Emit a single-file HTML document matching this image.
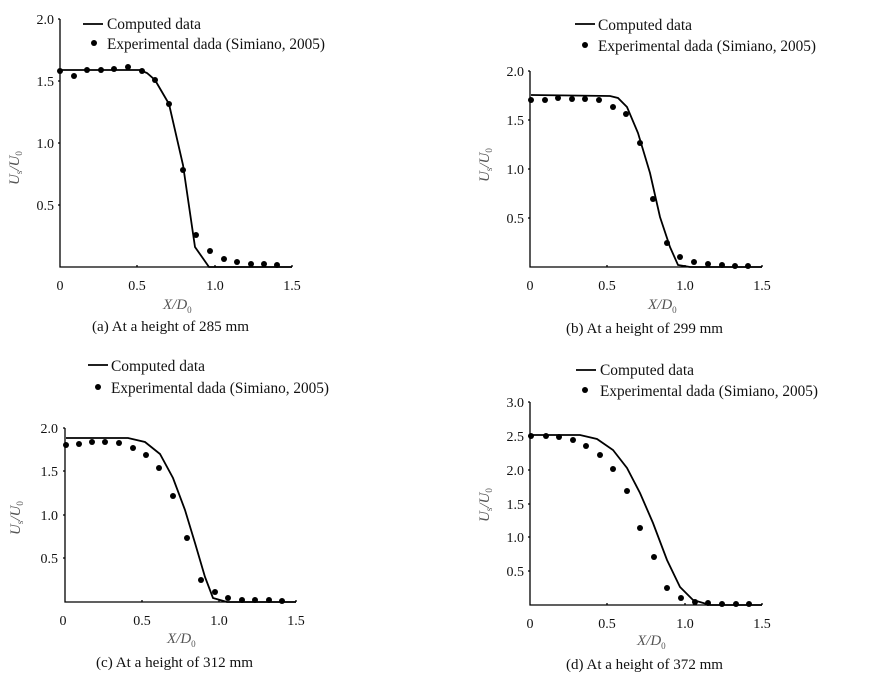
<!DOCTYPE html>
<html><head><meta charset="utf-8"><style>
html,body{margin:0;padding:0;background:#fff;}
svg{display:block;font-family:"Liberation Serif",serif;}
text{fill:#111;font-size:14px;}
.l{font-size:15.5px;}
.c{font-size:15px;}
.g{fill:#555;}
</style></head><body>
<svg width="871" height="673" viewBox="0 0 871 673" xmlns="http://www.w3.org/2000/svg">
<g stroke="#000" stroke-width="1.3" fill="none">
<polyline points="60,19 60,267 292,267"/>
<path d="M58,19h2M58,81h2M58,143h2M58,205h2M137,267v-2M215,267v-2M292,267v-2"/>
<polyline points="530,71 530,267 762,267"/>
<path d="M528,71h2M528,120h2M528,169h2M528,218h2M607,267v-2M685,267v-2M762,267v-2"/>
<polyline points="65,428 65,602 296,602"/>
<path d="M63,428h2M63,471h2M63,515h2M63,558h2M142,602v-2M219,602v-2M296,602v-2"/>
<polyline points="530,402 530,605 762,605"/>
<path d="M528,402h2M528,436h2M528,470h2M528,504h2M528,537h2M528,571h2M607,605v-2M685,605v-2M762,605v-2"/>
</g>
<g stroke="#000" stroke-width="1.8" fill="none">
<polyline points="60,70 140,70 147,73 155,80 169,104 183,165 195,247 209,267 292,267"/>
<polyline points="531,95 610,96 618,98 627,107 638,133 650,173 660,217 670,247 678,265 690,267 762,267"/>
<polyline points="66,438 128,438 145,442 160,454 173,478 185,510 195,543 205,577 213,598 227,602 296,602"/>
<polyline points="531,435 580,435 597,439 613,450 627,468 640,493 653,523 667,560 680,587 693,600 710,605 762,605"/>
<path d="M83,24h20M575,24h20M88,365h20M576,370h20"/>
</g>
<g fill="#000">
<circle cx="94" cy="43" r="3"/><circle cx="585" cy="45" r="3"/><circle cx="98" cy="387" r="3"/><circle cx="585" cy="390" r="3"/>
<circle cx="60" cy="71" r="3"/><circle cx="74" cy="76" r="3"/><circle cx="87" cy="70" r="3"/><circle cx="101" cy="70" r="3"/><circle cx="114" cy="69" r="3"/><circle cx="128" cy="67" r="3"/><circle cx="142" cy="71" r="3"/><circle cx="155" cy="80" r="3"/><circle cx="169" cy="104" r="3"/><circle cx="183" cy="170" r="3"/><circle cx="196" cy="235" r="3"/><circle cx="210" cy="251" r="3"/><circle cx="224" cy="259" r="3"/><circle cx="237" cy="262" r="3"/><circle cx="251" cy="264" r="3"/><circle cx="264" cy="264" r="3"/><circle cx="277" cy="265" r="3"/>
<circle cx="531" cy="100" r="3"/><circle cx="545" cy="100" r="3"/><circle cx="558" cy="98" r="3"/><circle cx="572" cy="99" r="3"/><circle cx="585" cy="99" r="3"/><circle cx="599" cy="100" r="3"/><circle cx="613" cy="107" r="3"/><circle cx="626" cy="114" r="3"/><circle cx="640" cy="143" r="3"/><circle cx="653" cy="199" r="3"/><circle cx="667" cy="243" r="3"/><circle cx="680" cy="257" r="3"/><circle cx="694" cy="262" r="3"/><circle cx="708" cy="264" r="3"/><circle cx="722" cy="265" r="3"/><circle cx="735" cy="266" r="3"/><circle cx="748" cy="266" r="3"/>
<circle cx="66" cy="445" r="3"/><circle cx="79" cy="444" r="3"/><circle cx="92" cy="442" r="3"/><circle cx="105" cy="442" r="3"/><circle cx="119" cy="443" r="3"/><circle cx="133" cy="448" r="3"/><circle cx="146" cy="455" r="3"/><circle cx="159" cy="468" r="3"/><circle cx="173" cy="496" r="3"/><circle cx="187" cy="538" r="3"/><circle cx="201" cy="580" r="3"/><circle cx="215" cy="592" r="3"/><circle cx="228" cy="598" r="3"/><circle cx="242" cy="600" r="3"/><circle cx="255" cy="600" r="3"/><circle cx="269" cy="600" r="3"/><circle cx="282" cy="601" r="3"/>
<circle cx="531" cy="436" r="3"/><circle cx="546" cy="436" r="3"/><circle cx="559" cy="437" r="3"/><circle cx="573" cy="440" r="3"/><circle cx="586" cy="446" r="3"/><circle cx="600" cy="455" r="3"/><circle cx="613" cy="469" r="3"/><circle cx="627" cy="491" r="3"/><circle cx="640" cy="528" r="3"/><circle cx="654" cy="557" r="3"/><circle cx="667" cy="588" r="3"/><circle cx="681" cy="598" r="3"/><circle cx="695" cy="602" r="3"/><circle cx="708" cy="603" r="3"/><circle cx="722" cy="604" r="3"/><circle cx="736" cy="604" r="3"/><circle cx="749" cy="604" r="3"/>
</g>
<text class="l" x="107" y="29" textLength="94" lengthAdjust="spacingAndGlyphs">Computed data</text>
<text class="l" x="107" y="49" textLength="218" lengthAdjust="spacingAndGlyphs">Experimental dada (Simiano, 2005)</text>
<text class="l" x="598" y="30" textLength="94" lengthAdjust="spacingAndGlyphs">Computed data</text>
<text class="l" x="598" y="51" textLength="218" lengthAdjust="spacingAndGlyphs">Experimental dada (Simiano, 2005)</text>
<text class="l" x="111" y="371" textLength="94" lengthAdjust="spacingAndGlyphs">Computed data</text>
<text class="l" x="111" y="393" textLength="218" lengthAdjust="spacingAndGlyphs">Experimental dada (Simiano, 2005)</text>
<text class="l" x="600" y="375" textLength="94" lengthAdjust="spacingAndGlyphs">Computed data</text>
<text class="l" x="600" y="396" textLength="218" lengthAdjust="spacingAndGlyphs">Experimental dada (Simiano, 2005)</text>
<g text-anchor="end">
<text x="54" y="24">2.0</text><text x="54" y="86">1.5</text><text x="54" y="148">1.0</text><text x="54" y="210">0.5</text>
<text x="524" y="76">2.0</text><text x="524" y="125">1.5</text><text x="524" y="174">1.0</text><text x="524" y="223">0.5</text>
<text x="58" y="433">2.0</text><text x="58" y="476">1.5</text><text x="58" y="520">1.0</text><text x="58" y="563">0.5</text>
<text x="524" y="407">3.0</text><text x="524" y="441">2.5</text><text x="524" y="475">2.0</text><text x="524" y="509">1.5</text><text x="524" y="542">1.0</text><text x="524" y="576">0.5</text>
</g>
<g text-anchor="middle">
<text x="60" y="290">0</text><text x="137" y="290">0.5</text><text x="215" y="290">1.0</text><text x="292" y="290">1.5</text>
<text x="530" y="290">0</text><text x="607" y="290">0.5</text><text x="685" y="290">1.0</text><text x="762" y="290">1.5</text>
<text x="63" y="625">0</text><text x="142" y="625">0.5</text><text x="219" y="625">1.0</text><text x="296" y="625">1.5</text>
<text x="530" y="628">0</text><text x="607" y="628">0.5</text><text x="685" y="628">1.0</text><text x="762" y="628">1.5</text>
</g>
<text class="g c" x="163" y="309" font-style="italic">X/D<tspan font-size="9" dy="4" font-style="normal">0</tspan></text>
<text class="g c" x="648" y="309" font-style="italic">X/D<tspan font-size="9" dy="4" font-style="normal">0</tspan></text>
<text class="g c" x="167" y="643" font-style="italic">X/D<tspan font-size="9" dy="4" font-style="normal">0</tspan></text>
<text class="g c" x="637" y="645" font-style="italic">X/D<tspan font-size="9" dy="4" font-style="normal">0</tspan></text>
<text class="g c" transform="translate(19,185) rotate(-90)" font-style="italic">U<tspan font-size="9" dy="3" font-style="normal">s</tspan><tspan dy="-3">/U</tspan><tspan font-size="9" dy="3" font-style="normal">0</tspan></text>
<text class="g c" transform="translate(489,182) rotate(-90)" font-style="italic">U<tspan font-size="9" dy="3" font-style="normal">s</tspan><tspan dy="-3">/U</tspan><tspan font-size="9" dy="3" font-style="normal">0</tspan></text>
<text class="g c" transform="translate(20,535) rotate(-90)" font-style="italic">U<tspan font-size="9" dy="3" font-style="normal">s</tspan><tspan dy="-3">/U</tspan><tspan font-size="9" dy="3" font-style="normal">0</tspan></text>
<text class="g c" transform="translate(489,522) rotate(-90)" font-style="italic">U<tspan font-size="9" dy="3" font-style="normal">s</tspan><tspan dy="-3">/U</tspan><tspan font-size="9" dy="3" font-style="normal">0</tspan></text>
<text class="c" x="92" y="331" textLength="157" lengthAdjust="spacingAndGlyphs">(a) At a height of 285 mm</text>
<text class="c" x="566" y="333" textLength="157" lengthAdjust="spacingAndGlyphs">(b) At a height of 299 mm</text>
<text class="c" x="96" y="667" textLength="157" lengthAdjust="spacingAndGlyphs">(c) At a height of 312 mm</text>
<text class="c" x="566" y="669" textLength="157" lengthAdjust="spacingAndGlyphs">(d) At a height of 372 mm</text>
</svg>
</body></html>
